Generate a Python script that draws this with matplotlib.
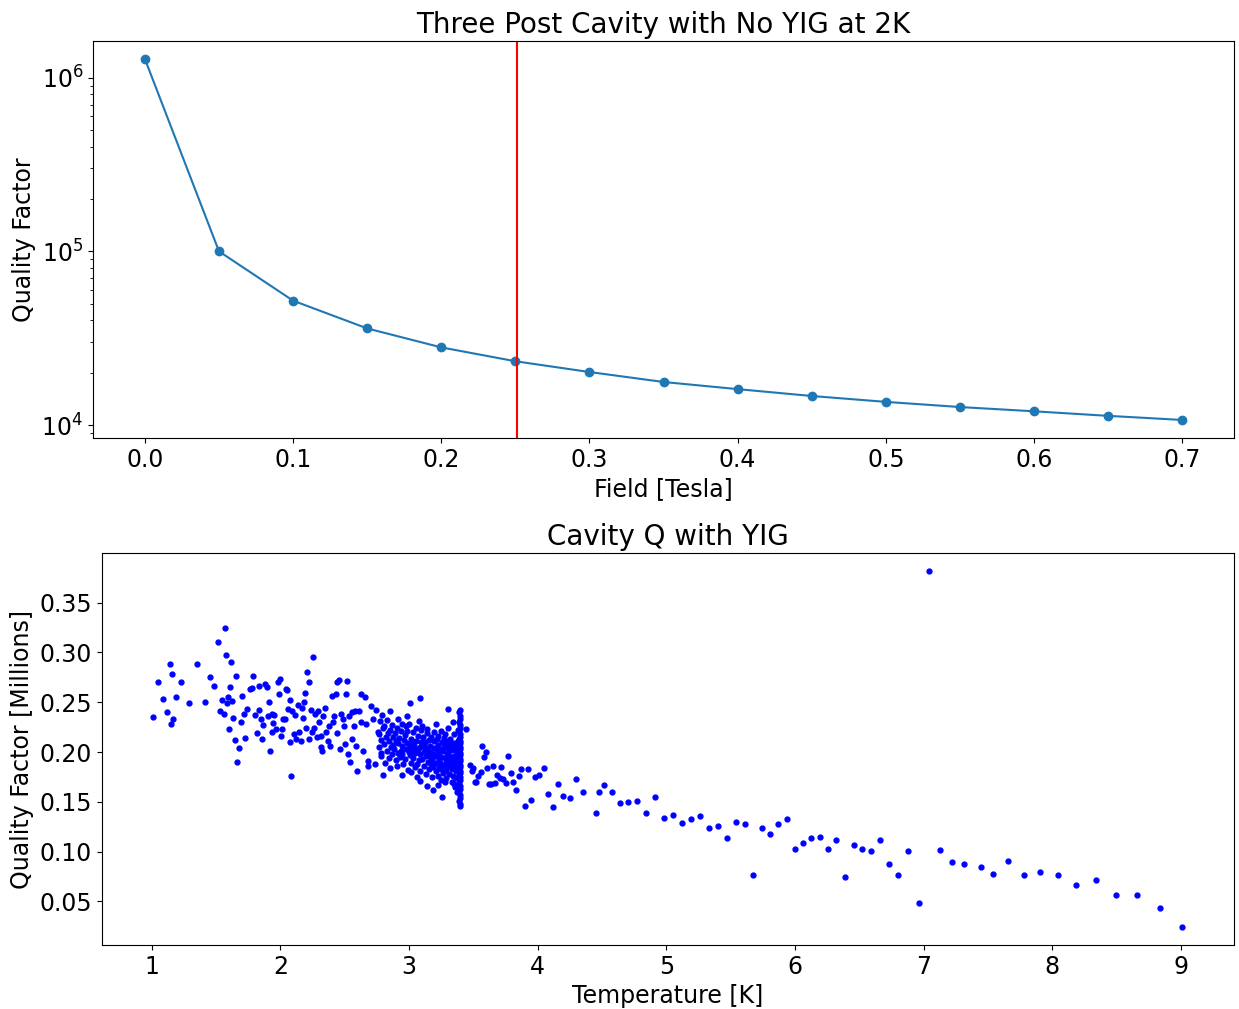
import matplotlib
matplotlib.use("Agg")
import matplotlib.pyplot as plt

# Top panel: quality factor vs magnetic field (no YIG, 2K)
field = [0.0, 0.05, 0.1, 0.15, 0.2, 0.25, 0.3, 0.35, 0.4, 0.45, 0.5, 0.55, 0.6, 0.65, 0.7]
q_field = [1.28e6, 1.0e5, 5.2e4, 3.6e4, 2.8e4, 2.33e4, 2.02e4, 1.77e4, 1.61e4,
           1.47e4, 1.36e4, 1.27e4, 1.20e4, 1.13e4, 1.07e4]
field_marker = 0.2513

# Bottom panel: cavity Q with YIG vs temperature
# low temperature, sparse points
temp_low = [1.013, 1.052, 1.088, 1.119, 1.138, 1.155, 1.163, 1.153, 1.187, 1.228, 1.288, 1.355,
            1.412, 1.453, 1.487, 1.513, 1.534, 1.560, 1.573, 1.547, 1.581, 1.593, 1.583, 1.601,
            1.614, 1.606, 1.624, 1.635, 1.645, 1.655, 1.679, 1.666, 1.690, 1.705, 1.728, 1.715,
            1.741, 1.767, 1.785, 1.777, 1.801, 1.819, 1.830, 1.837, 1.853, 1.858, 1.868, 1.884,
            1.894, 1.912, 1.904, 1.920, 1.931, 1.938, 1.954, 1.946, 1.964, 1.982, 1.995, 1.987,
            2.003, 2.013, 2.018, 2.036, 2.042, 2.055, 2.063, 2.071, 2.078, 2.086, 2.094, 2.104,
            2.114, 2.125, 2.137, 2.143, 2.161, 2.169, 2.179, 2.184, 2.195, 2.200, 2.207, 2.221,
            2.226, 2.238, 2.252, 2.244, 2.259, 2.270, 2.283, 2.293, 2.298, 2.314, 2.324, 2.319,
            2.335, 2.345, 2.353, 2.371, 2.378, 2.389, 2.402, 2.410, 2.417, 2.433, 2.441, 2.456,
            2.444, 2.462, 2.472, 2.487, 2.498, 2.503, 2.514, 2.518, 2.526, 2.534, 2.539, 2.553,
            2.560, 2.570, 2.581, 2.591, 2.599, 2.612, 2.625, 2.630, 2.643, 2.656, 2.669, 2.682,
            2.685, 2.708, 2.721, 2.742, 2.739, 2.759]
q_low = [0.235, 0.270, 0.253, 0.240, 0.288, 0.278, 0.233, 0.228, 0.255, 0.270, 0.249, 0.288,
         0.250, 0.275, 0.266, 0.311, 0.241, 0.238, 0.325, 0.252, 0.297, 0.255, 0.249, 0.223,
         0.290, 0.265, 0.251, 0.234, 0.212, 0.276, 0.204, 0.190, 0.230, 0.256, 0.214, 0.238,
         0.243, 0.263, 0.276, 0.264, 0.237, 0.219, 0.242, 0.266, 0.233, 0.213, 0.227, 0.268,
         0.265, 0.250, 0.236, 0.201, 0.238, 0.220, 0.237, 0.229, 0.223, 0.270, 0.273, 0.258,
         0.216, 0.223, 0.233, 0.233, 0.263, 0.262, 0.243, 0.252, 0.210, 0.176, 0.241, 0.218,
         0.237, 0.213, 0.247, 0.220, 0.211, 0.244, 0.234, 0.250, 0.259, 0.224, 0.280, 0.270,
         0.213, 0.242, 0.295, 0.220, 0.224, 0.238, 0.215, 0.241, 0.230, 0.205, 0.201, 0.216,
         0.236, 0.244, 0.220, 0.211, 0.226, 0.206, 0.256, 0.230, 0.236, 0.258, 0.270, 0.272,
         0.219, 0.203, 0.238, 0.233, 0.226, 0.208, 0.258, 0.271, 0.198, 0.236, 0.190, 0.240,
         0.213, 0.226, 0.241, 0.206, 0.181, 0.241, 0.258, 0.230, 0.201, 0.255, 0.228, 0.191,
         0.186, 0.246, 0.233, 0.242, 0.188, 0.220]

# dense cloud between ~2.8 K and 3.4 K
temp_mid = [3.004, 3.084, 3.301, 3.395, 3.441, 2.798, 2.944, 3.063, 3.140, 3.187, 3.255, 3.226,
            3.278, 3.084, 3.019, 3.348,
            2.764, 2.772, 2.779, 2.768, 2.786, 2.795, 2.781, 2.792, 2.803, 2.816, 2.809, 2.821,
            2.826, 2.838, 2.831, 2.843, 2.847, 2.856, 2.852, 2.861, 2.849, 2.866, 2.874, 2.878, 2.869,
            2.884, 2.895, 2.889, 2.899, 2.904, 2.913, 2.907, 2.918, 2.911, 2.925, 2.934, 2.929, 2.938,
            2.946, 2.953, 2.942, 2.958, 2.949, 2.965, 2.974, 2.968, 2.977, 2.984, 2.993, 2.987, 2.997, 2.981,
            3.006, 3.014, 3.009, 3.017, 3.002, 3.024, 3.033, 3.028, 3.037, 3.045, 3.054, 3.048, 3.057, 3.042,
            3.066, 3.074, 3.069, 3.077, 3.062, 3.086, 3.094, 3.089, 3.097, 3.082,
            3.104, 3.113, 3.108, 3.117, 3.101, 3.119, 3.126, 3.134, 3.129, 3.138, 3.123,
            3.145, 3.154, 3.148, 3.157, 3.142, 3.151, 3.166, 3.174, 3.169, 3.177, 3.162, 3.171,
            3.185, 3.194, 3.188, 3.197, 3.182, 3.191, 3.206, 3.214, 3.209, 3.217, 3.202, 3.211,
            3.225, 3.234, 3.228, 3.237, 3.222, 3.231, 3.245, 3.254, 3.248, 3.257, 3.242, 3.251, 3.246,
            3.266, 3.274, 3.269, 3.277, 3.262, 3.271, 3.285, 3.294, 3.288, 3.297, 3.282, 3.291, 3.286,
            3.306, 3.314, 3.309, 3.317, 3.302, 3.311, 3.306, 3.325, 3.334, 3.328, 3.337, 3.322, 3.331, 3.326, 3.339,
            3.346, 3.354, 3.349, 3.357, 3.342, 3.351, 3.346, 3.359,
            3.366, 3.374, 3.369, 3.377, 3.362, 3.371, 3.366, 3.379, 3.375]
q_mid = [0.249, 0.254, 0.243, 0.242, 0.223, 0.177, 0.177, 0.175, 0.166, 0.162, 0.155, 0.167,
         0.170, 0.171, 0.180, 0.168,
         0.205, 0.231, 0.196, 0.218, 0.212, 0.224, 0.199, 0.237, 0.208, 0.189, 0.226, 0.215,
         0.201, 0.219, 0.232, 0.194, 0.211, 0.184, 0.222, 0.205, 0.241, 0.198, 0.215, 0.207, 0.227,
         0.203, 0.192, 0.219, 0.211, 0.186, 0.209, 0.224, 0.199, 0.233, 0.214, 0.201, 0.195, 0.221,
         0.206, 0.188, 0.228, 0.212, 0.198, 0.217, 0.203, 0.193, 0.226, 0.209, 0.182, 0.221, 0.200, 0.236,
         0.197, 0.213, 0.205, 0.189, 0.228, 0.208, 0.220, 0.194, 0.201, 0.185, 0.211, 0.199, 0.224, 0.206,
         0.216, 0.192, 0.203, 0.231, 0.188, 0.198, 0.210, 0.181, 0.222, 0.205,
         0.193, 0.207, 0.215, 0.186, 0.226, 0.200, 0.204, 0.178, 0.196, 0.219, 0.210,
         0.190, 0.212, 0.201, 0.183, 0.223, 0.197, 0.206, 0.194, 0.215, 0.175, 0.200, 0.188,
         0.198, 0.211, 0.185, 0.220, 0.193, 0.204, 0.181, 0.202, 0.196, 0.213, 0.189, 0.228,
         0.207, 0.192, 0.176, 0.200, 0.216, 0.185, 0.195, 0.210, 0.183, 0.203, 0.189, 0.221, 0.172,
         0.201, 0.187, 0.214, 0.194, 0.179, 0.208, 0.190, 0.205, 0.182, 0.197, 0.218, 0.174, 0.210,
         0.199, 0.186, 0.211, 0.193, 0.204, 0.178, 0.224, 0.188, 0.202, 0.195, 0.170, 0.213, 0.183, 0.207, 0.230,
         0.196, 0.184, 0.209, 0.191, 0.176, 0.203, 0.218, 0.165,
         0.192, 0.200, 0.181, 0.211, 0.187, 0.206, 0.174, 0.222, 0.160]

# the vertical stack of readings at ~3.4 K
temp_stack = [3.39, 3.40, 3.395, 3.39, 3.40, 3.395, 3.39, 3.40, 3.395, 3.39, 3.40, 3.395, 3.39,
              3.40, 3.395, 3.39, 3.40, 3.395, 3.39, 3.40, 3.395, 3.39, 3.40, 3.395, 3.39, 3.40,
              3.395, 3.39, 3.40, 3.395, 3.39, 3.40, 3.395, 3.39, 3.40, 3.395, 3.39, 3.40, 3.395]
q_stack = [0.240, 0.236, 0.233, 0.230, 0.227, 0.224, 0.221, 0.218, 0.215, 0.213, 0.211, 0.209,
           0.207, 0.205, 0.203, 0.201, 0.199, 0.197, 0.195, 0.193, 0.191, 0.189, 0.187, 0.185,
           0.183, 0.181, 0.179, 0.177, 0.175, 0.172, 0.169, 0.166, 0.163, 0.160, 0.157, 0.154,
           0.151, 0.148, 0.146]

# high temperature tail
temp_high = [3.472, 3.486, 3.498, 3.511, 3.524, 3.537, 3.556, 3.568, 3.581, 3.602, 3.610, 3.622,
             3.641, 3.653, 3.667, 3.685, 3.706, 3.719, 3.731, 3.752, 3.770, 3.789, 3.809, 3.830,
             3.853, 3.874, 3.900, 3.926, 3.952, 3.980, 4.011, 4.048, 4.081, 4.120, 4.162, 4.201,
             4.250, 4.296, 4.349, 4.457, 4.478, 4.516, 4.576, 4.641, 4.706, 4.773, 4.843, 4.913,
             4.983, 5.056, 5.123, 5.196, 5.266, 5.333, 5.403, 5.473, 5.540, 5.610, 5.673, 5.743,
             5.805, 5.872, 5.937, 6.001, 6.065, 6.129, 6.193, 6.258, 6.323, 6.389, 6.458, 6.525,
             6.592, 6.660, 6.730, 6.805, 6.880, 6.961, 7.041, 7.126, 7.220, 7.318, 7.443, 7.538,
             7.655, 7.779, 7.909, 8.044, 8.189, 8.342, 8.497, 8.663, 8.835, 9.013]
q_high = [0.187, 0.181, 0.184, 0.170, 0.170, 0.176, 0.180, 0.206, 0.195, 0.200, 0.184, 0.168,
          0.168, 0.186, 0.169, 0.177, 0.174, 0.185, 0.173, 0.169, 0.196, 0.179, 0.170, 0.162,
          0.176, 0.183, 0.146, 0.183, 0.152, 0.175, 0.177, 0.184, 0.158, 0.145, 0.168, 0.156,
          0.154, 0.173, 0.160, 0.139, 0.160, 0.167, 0.160, 0.149, 0.150, 0.151, 0.139, 0.155,
          0.134, 0.137, 0.129, 0.133, 0.136, 0.124, 0.126, 0.114, 0.130, 0.128, 0.076, 0.124,
          0.118, 0.128, 0.133, 0.103, 0.109, 0.114, 0.115, 0.103, 0.112, 0.074, 0.107, 0.103,
          0.101, 0.112, 0.087, 0.076, 0.101, 0.048, 0.382, 0.102, 0.090, 0.087, 0.084, 0.077,
          0.091, 0.076, 0.079, 0.076, 0.066, 0.071, 0.056, 0.056, 0.043, 0.024]

temps = temp_low + temp_mid + temp_stack + temp_high
qs = q_low + q_mid + q_stack + q_high

plt.rcParams['font.size'] = 17

fig = plt.figure(figsize=(12.39, 10.09), dpi=100)

ax1 = fig.add_axes([0.0751, 0.5659, 0.9209, 0.3935])
ax1.plot(field, q_field, 'o-', color='#1f77b4')
ax1.axvline(field_marker, color='r')
ax1.set_yscale('log')
ax1.set_title("Three Post Cavity with No YIG at 2K", fontsize=20)
ax1.set_xlabel("Field [Tesla]")
ax1.set_ylabel("Quality Factor")

ax2 = fig.add_axes([0.0823, 0.0634, 0.9136, 0.3885])
ax2.plot(temps, qs, 'b.', markersize=7)
ax2.set_title("Cavity Q with YIG", fontsize=20)
ax2.set_xlabel("Temperature [K]")
ax2.set_ylabel("Quality Factor [Millions]")

fig.savefig("out.png")
